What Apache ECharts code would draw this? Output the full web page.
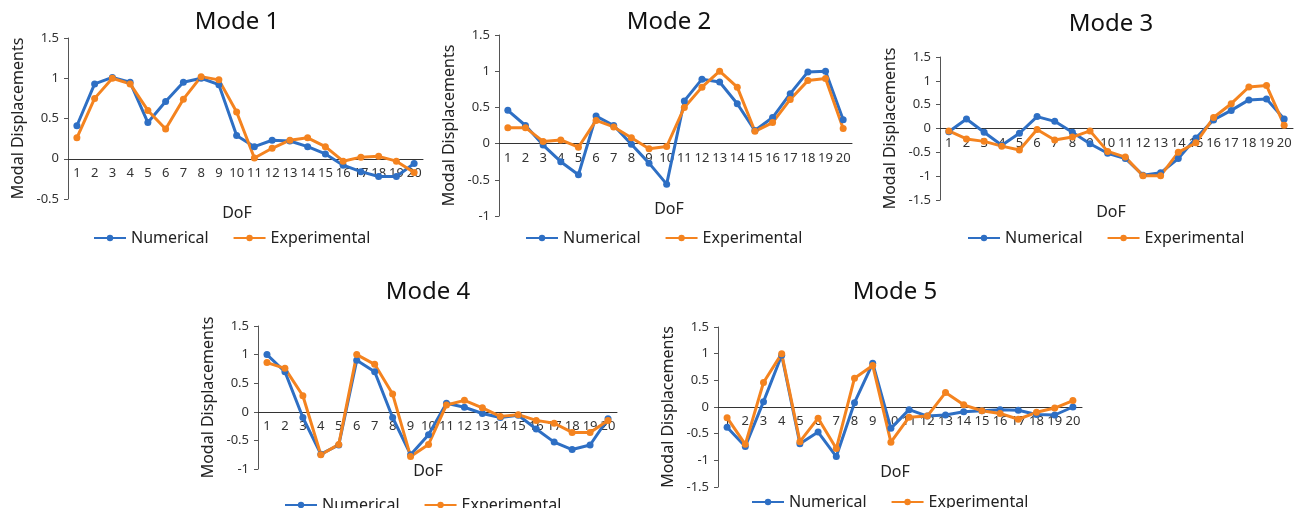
<!DOCTYPE html>
<html>
<head>
<meta charset="utf-8">
<script src="https://cdn.jsdelivr.net/npm/echarts@6/dist/echarts.min.js"></script>
<style>
  html, body { margin: 0; padding: 0; background: #fff; }
  #chart { width: 1303px; height: 508px; }
</style>
</head>
<body>
<div id="chart"></div>
<script>
// DoF categories
const dof = ['1','2','3','4','5','6','7','8','9','10','11','12','13','14','15','16','17','18','19','20'];

// modal displacements
const num1 = [0.41, 0.93, 1.01, 0.95, 0.45, 0.71, 0.95, 1.0, 0.92, 0.29, 0.15, 0.23, 0.22, 0.15, 0.06, -0.08, -0.16, -0.22, -0.22, -0.06];
const exp1 = [0.26, 0.75, 1.0, 0.93, 0.6, 0.37, 0.74, 1.02, 0.98, 0.58, 0.01, 0.13, 0.23, 0.26, 0.15, -0.03, 0.02, 0.03, -0.03, -0.17];

const num2 = [0.46, 0.25, -0.02, -0.25, -0.43, 0.38, 0.25, -0.01, -0.27, -0.56, 0.59, 0.89, 0.85, 0.55, 0.18, 0.36, 0.69, 0.99, 1.0, 0.33];
const exp2 = [0.22, 0.22, 0.03, 0.05, -0.05, 0.32, 0.23, 0.08, -0.07, -0.04, 0.5, 0.78, 1.0, 0.78, 0.17, 0.29, 0.61, 0.87, 0.9, 0.21];

const num3 = [-0.07, 0.2, -0.08, -0.35, -0.1, 0.25, 0.15, -0.08, -0.32, -0.52, -0.63, -0.98, -0.93, -0.63, -0.2, 0.18, 0.38, 0.6, 0.62, 0.2];
const exp3 = [-0.05, -0.22, -0.27, -0.37, -0.45, -0.02, -0.24, -0.18, -0.05, -0.48, -0.6, -0.99, -0.99, -0.5, -0.3, 0.23, 0.52, 0.87, 0.9, 0.07];

const num4 = [1.0, 0.7, -0.1, -0.74, -0.58, 0.9, 0.7, -0.1, -0.75, -0.4, 0.15, 0.08, -0.03, -0.1, -0.06, -0.3, -0.53, -0.66, -0.58, -0.12];
const exp4 = [0.86, 0.76, 0.28, -0.75, -0.57, 1.0, 0.83, 0.31, -0.78, -0.57, 0.12, 0.2, 0.07, -0.08, -0.05, -0.15, -0.2, -0.36, -0.36, -0.15];

const num5 = [-0.38, -0.74, 0.1, 0.97, -0.69, -0.47, -0.93, 0.08, 0.82, -0.4, -0.05, -0.17, -0.15, -0.09, -0.07, -0.05, -0.06, -0.14, -0.15, 0.0];
const exp5 = [-0.2, -0.7, 0.46, 1.0, -0.65, -0.21, -0.78, 0.54, 0.78, -0.66, -0.19, -0.17, 0.27, 0.04, -0.07, -0.12, -0.23, -0.1, -0.02, 0.12];

const titles = ['Mode 1', 'Mode 2', 'Mode 3', 'Mode 4', 'Mode 5'];
const yMin = [-0.5, -1, -1.5, -1, -1.5];
const yMax = [1.5, 1.5, 1.5, 1.5, 1.5];

const numAll = [num1, num2, num3, num4, num5];
const expAll = [exp1, exp2, exp3, exp4, exp5];

// panel layout (pixels)
const panels = [
  { l: 68,  r: 423,  t: 38,  b: 199, cx: 232,  ty: 5,   dy: 200, ly: 225 },
  { l: 499, r: 852,  t: 35,  b: 216, cx: 664,  ty: 5,   dy: 196, ly: 225 },
  { l: 940, r: 1293, t: 57,  b: 200, cx: 1106, ty: 7,   dy: 199, ly: 225 },
  { l: 258, r: 617,  t: 326, b: 469, cx: 423,  ty: 275, dy: 458, ly: 492 },
  { l: 718, r: 1082, t: 327, b: 487, cx: 890,  ty: 275, dy: 459, ly: 489 }
];

const blue = '#2e6fc4';
const orange = '#f4831f';
const font = 'Noto Sans';

let myChart = echarts.init(document.getElementById('chart'));

let title = [], grid = [], xAxis = [], yAxis = [], legend = [], series = [];

panels.forEach((p, i) => {
  let h = p.b - p.t;
  // distance from the bottom of the plot up to the zero line
  let zeroUp = (0 - yMin[i]) / (yMax[i] - yMin[i]) * h;
  title.push({
    text: titles[i], left: p.cx, top: p.ty, textAlign: 'center',
    textStyle: { fontFamily: font, fontSize: 24, fontWeight: 'normal', color: '#111' }
  });
  // x axis title sits under the plot, not under the zero line
  title.push({
    text: 'DoF', left: p.cx, top: p.dy, textAlign: 'center',
    textStyle: { fontFamily: font, fontSize: 16, fontWeight: 'normal', color: '#222' }
  });
  grid.push({ left: p.l, width: p.r - p.l, top: p.t, height: h });
  xAxis.push({
    type: 'category', gridIndex: i, data: dof, boundaryGap: true,
    axisTick: { show: false },
    axisLine: { onZero: true, lineStyle: { color: '#333', width: 1 } },
    axisLabel: { color: '#333', fontFamily: font, fontSize: 13, margin: 8 - zeroUp, interval: 0 }
  });
  yAxis.push({
    type: 'value', gridIndex: i, min: yMin[i], max: yMax[i], interval: 0.5,
    name: 'Modal Displacements', nameLocation: 'middle', nameGap: 42,
    nameTextStyle: { fontFamily: font, fontSize: 16, color: '#222' },
    splitLine: { show: false },
    axisLine: { show: true, lineStyle: { color: '#555' } },
    axisTick: { show: true, length: 4, lineStyle: { color: '#555' } },
    axisLabel: { color: '#333', fontFamily: font, fontSize: 13, margin: 9 }
  });
  legend.push({
    left: p.cx - 144, top: p.ly, orient: 'horizontal',
    itemWidth: 32, itemHeight: 8, itemGap: 24,
    data: ['Numerical', 'Experimental'],
    textStyle: { fontFamily: font, fontSize: 16, color: '#222' }
  });
  series.push({
    name: 'Numerical', type: 'line', xAxisIndex: i, yAxisIndex: i,
    data: numAll[i], symbol: 'circle', symbolSize: 7,
    lineStyle: { color: blue, width: 3 }, itemStyle: { color: blue }
  });
  series.push({
    name: 'Experimental', type: 'line', xAxisIndex: i, yAxisIndex: i,
    data: expAll[i], symbol: 'circle', symbolSize: 7,
    lineStyle: { color: orange, width: 3 }, itemStyle: { color: orange }
  });
});

let option = {
  animation: false,
  color: [blue, orange],
  title: title,
  grid: grid,
  xAxis: xAxis,
  yAxis: yAxis,
  legend: legend,
  series: series
};

myChart.setOption(option);
window.addEventListener('resize', () => {
  myChart.resize();
}, true);
</script>
</body>
</html>
